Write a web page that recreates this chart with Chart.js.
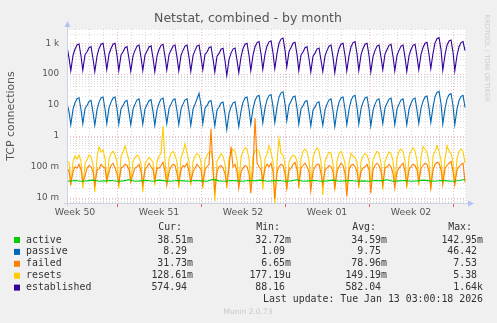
<!DOCTYPE html>
<html>
<head>
<meta charset="utf-8">
<script src="https://cdn.jsdelivr.net/npm/chart.js@4/dist/chart.umd.min.js"></script>
<style>
  html, body { margin: 0; padding: 0; background: #f0f0f0; }
  #netstat { display: block; }
</style>
</head>
<body>
<canvas id="netstat" width="497" height="323"></canvas>
<script>
// time axis: days counted from Thu Dec 11 2025 00:00, samples at these hours of each day
const startDay = -0.15;
const endDay = 33;
const hoursOfDay = [0, 3.5, 8, 12, 16, 20];

const weekLabels = ['Week 50', 'Week 51', 'Week 52', 'Week 01', 'Week 02'];
const weekCentres = [0.5, 7.5, 14.5, 21.5, 28.5];
const weekStarts = [4, 11, 18, 25, 32];

const yTicks = [0.01, 0.1, 1, 10, 100, 1000];
const yTickLabels = ['10 m', '100 m', '1', '10', '100', '1 k'];

// one row per day: 00h, 03:30, 08h, 12h, 16h, 20h
const established = [
  720,
  330, 128, 410, 650, 880, 950,
  380, 135, 430, 530, 720, 780,
  310, 122, 390, 680, 930, 1000,
  400, 140, 450, 680, 930, 1000,
  400, 130, 420, 530, 720, 780,
  310, 125, 400, 590, 810, 870,
  350, 132, 420, 560, 760, 820,
  330, 120, 390, 630, 860, 920,
  370, 136, 430, 590, 810, 870,
  350, 128, 410, 590, 810, 870,
  350, 124, 400, 590, 810, 870,
  350, 138, 440, 520, 720, 770,
  310, 118, 380, 470, 640, 690,
  270, 90, 300, 480, 650, 700,
  280, 112, 360, 680, 930, 1000,
  400, 130, 420, 770, 1050, 1130,
  450, 142, 450, 820, 1110, 1200,
  480, 150, 480, 1000, 1370, 1480,
  590, 170, 540, 730, 1000, 1080,
  430, 130, 420, 520, 720, 770,
  310, 118, 380, 480, 650, 700,
  280, 122, 390, 590, 810, 870,
  350, 112, 360, 680, 930, 1000,
  400, 126, 400, 770, 1050, 1130,
  450, 130, 420, 680, 930, 1000,
  400, 116, 370, 590, 810, 870,
  350, 140, 450, 630, 860, 920,
  370, 128, 410, 590, 810, 870,
  350, 124, 400, 630, 860, 920,
  370, 138, 440, 730, 1000, 1080,
  430, 150, 480, 1030, 1410, 1520,
  610, 134, 430, 870, 1190, 1280,
  510, 128, 410, 770, 1050, 1130,
  574.94
];

const passive = [
  10.7,
  6, 2.3, 7.4, 11.8, 16, 17.2,
  6.9, 2.5, 7.8, 9.6, 13, 14.2,
  5.7, 2.2, 7.1, 12.4, 16.9, 18.2,
  7.3, 2.5, 8.2, 12.4, 16.9, 18.2,
  7.3, 2.4, 7.6, 9.6, 13.1, 14.2,
  5.6, 2.3, 7.3, 10.7, 14.7, 15.8,
  6.3, 2.4, 7.6, 10.2, 13.8, 14.9,
  6, 2.2, 7.1, 11.5, 15.6, 16.7,
  6.7, 2.5, 7.8, 10.7, 14.7, 15.8,
  6.3, 2.3, 7.5, 10.7, 14.7, 15.8,
  6.3, 2.2, 7.3, 10.7, 16, 24,
  9.6, 2.5, 8, 9.5, 13.1, 14,
  5.6, 2.1, 6.9, 8.5, 11.6, 12.5,
  5, 1.6, 5.5, 8.7, 11.8, 12.7,
  5.1, 2, 6.5, 12.4, 16.9, 18.2,
  7.3, 2.4, 7.6, 14, 19.1, 20.5,
  8.2, 2.6, 8.2, 14.9, 20.2, 21.8,
  8.7, 2.7, 8.7, 18.2, 24.9, 26.9,
  10.7, 3.1, 9.8, 13.3, 18.2, 19.6,
  7.8, 2.4, 7.6, 9.5, 13.1, 14,
  5.6, 2.1, 6.9, 8.7, 11.8, 12.7,
  5.1, 2.2, 7.1, 10.7, 14.7, 15.8,
  6.3, 2, 6.5, 12.4, 16.9, 18.2,
  7.3, 2.3, 7.3, 14, 19.1, 20.5,
  8.2, 2.4, 7.6, 12.4, 16.9, 18.2,
  7.3, 2.1, 6.7, 10.7, 14.7, 15.8,
  6.3, 2.5, 8.2, 11.5, 15.6, 16.7,
  6.7, 2.3, 7.5, 10.7, 14.7, 15.8,
  6.3, 2.3, 7.3, 11.5, 15.6, 16.7,
  6.7, 2.5, 8, 13.3, 18.2, 19.6,
  7.8, 2.7, 8.7, 18.7, 25.6, 27.6,
  11, 2.4, 7.8, 15.8, 21.6, 23.3,
  9.3, 2.3, 7.5, 14, 19.1, 20.5,
  8.29
];

const failed = [
  0.09,
  0.07, 0.028, 0.07, 0.1, 0.09, 0.12,
  0.08, 0.032, 0.05, 0.09, 0.11, 0.1,
  0.07, 0.025, 0.08, 0.085, 0.12, 0.1,
  0.09, 0.035, 0.07, 0.11, 0.13, 0.09,
  0.06, 0.028, 0.09, 0.1, 0.12, 0.11,
  0.08, 0.032, 0.06, 0.09, 0.1, 0.12,
  0.07, 0.026, 0.08, 0.1, 0.13, 0.1,
  0.08, 0.035, 0.09, 0.09, 0.11, 0.14,
  0.07, 0.025, 0.07, 0.1, 0.12, 0.11,
  0.06, 0.028, 0.08, 0.11, 0.1, 0.13,
  0.07, 0.032, 0.07, 0.09, 0.12, 0.1,
  0.08, 0.026, 0.08, 0.1, 0.12, 1.7,
  0.07, 0.016, 0.07, 0.1, 0.11, 0.09,
  0.06, 0.026, 0.09, 0.45, 0.1, 0.12,
  0.07, 0.02, 0.07, 0.09, 0.11, 0.1,
  0.06, 0.014, 0.08, 3.8, 0.13, 0.1,
  0.08, 0.035, 0.09, 0.12, 0.1, 0.13,
  0.07, 0.009, 0.07, 0.1, 0.12, 0.11,
  0.06, 0.02, 0.08, 0.09, 0.12, 0.14,
  0.08, 0.026, 0.09, 0.11, 0.13, 0.1,
  0.07, 0.016, 0.07, 0.1, 0.12, 0.12,
  0.06, 0.026, 0.08, 0.09, 0.11, 0.1,
  0.07, 0.02, 0.07, 0.1, 0.13, 0.11,
  0.06, 0.011, 0.08, 0.11, 0.12, 0.1,
  0.07, 0.026, 0.07, 0.09, 0.1, 0.12,
  0.08, 0.014, 0.08, 0.11, 0.13, 0.11,
  0.07, 0.026, 0.09, 0.1, 0.12, 0.1,
  0.06, 0.02, 0.07, 0.09, 0.11, 0.13,
  0.07, 0.026, 0.08, 0.1, 0.12, 0.11,
  0.08, 0.032, 0.09, 0.11, 0.13, 0.12,
  0.07, 0.02, 0.08, 0.12, 0.14, 0.13,
  0.08, 0.026, 0.09, 0.11, 0.13, 0.15,
  0.07, 0.026, 0.08, 0.1, 0.12, 0.13,
  0.03173
];

const resets = [
  0.15,
  0.14, 0.025, 0.15, 0.22, 0.18, 0.24,
  0.15, 0.02, 0.13, 0.17, 0.24, 0.21,
  0.12, 0.015, 0.2, 0.44, 0.3, 0.35,
  0.18, 0.03, 0.18, 0.27, 0.32, 0.24,
  0.14, 0.02, 0.22, 0.3, 0.48, 0.27,
  0.16, 0.03, 0.15, 0.2, 0.24, 0.21,
  0.12, 0.015, 0.13, 0.16, 0.2, 0.17,
  0.14, 0.025, 0.15, 0.22, 0.27, 2.1,
  0.16, 0.03, 0.18, 0.27, 0.32, 0.24,
  0.14, 0.02, 0.2, 0.3, 0.55, 0.27,
  0.15, 0.025, 0.15, 0.22, 0.27, 0.24,
  0.14, 0.02, 0.17, 0.24, 0.3, 0.32,
  0.15, 0.008, 0.15, 0.2, 0.27, 0.22,
  0.12, 0.02, 0.18, 0.27, 0.37, 0.32,
  0.16, 0.03, 0.2, 0.32, 0.42, 0.37,
  0.18, 0.025, 0.22, 0.32, 0.37, 0.32,
  0.16, 0.018, 0.18, 0.27, 0.48, 0.3,
  0.14, 0.006, 0.15, 0.8, 0.27, 0.24,
  0.12, 0.018, 0.14, 0.2, 0.24, 0.22,
  0.15, 0.02, 0.18, 0.32, 0.37, 0.32,
  0.16, 0.025, 0.2, 0.32, 0.42, 0.32,
  0.14, 0.012, 0.15, 0.22, 0.3, 0.27,
  0.12, 0.018, 0.15, 0.27, 0.32, 0.22,
  0.13, 0.015, 0.13, 0.27, 0.22, 0.2,
  0.14, 0.02, 0.15, 0.22, 0.27, 0.24,
  0.15, 0.025, 0.17, 0.24, 0.32, 0.27,
  0.13, 0.018, 0.15, 0.22, 0.3, 0.26,
  0.16, 0.03, 0.2, 0.32, 0.37, 0.32,
  0.15, 0.02, 0.22, 0.32, 0.42, 0.32,
  0.16, 0.025, 0.2, 0.45, 0.37, 0.3,
  0.14, 0.018, 0.22, 0.32, 0.48, 0.32,
  0.16, 0.03, 0.18, 0.48, 0.32, 0.27,
  0.14, 0.025, 0.18, 0.32, 0.37, 0.32,
  0.12861
];

// active is sampled twice a day
const active = [
  0.035, 0.034, 0.036, 0.034, 0.035, 0.037, 0.034, 0.035, 0.036, 0.034,
  0.035, 0.038, 0.034, 0.035, 0.036, 0.034, 0.037, 0.035, 0.034, 0.036,
  0.035, 0.034, 0.036, 0.035, 0.034, 0.039, 0.035, 0.034, 0.036, 0.035,
  0.034, 0.036, 0.035, 0.037, 0.034, 0.035, 0.036, 0.034, 0.035, 0.038,
  0.034, 0.035, 0.036, 0.034, 0.035, 0.037, 0.034, 0.035, 0.036, 0.034,
  0.035, 0.034, 0.036, 0.035, 0.038, 0.034, 0.035, 0.036, 0.034, 0.035,
  0.037, 0.035, 0.034, 0.036, 0.035, 0.034, 0.036, 0.03851
];

const seriesNames = ['active', 'passive', 'failed', 'resets', 'established'];
const seriesColors = ['#00cc00', '#0066b3', '#ff8000', '#ffcc00', '#330099'];
const curText = ['38.51m', '8.29', '31.73m', '128.61m', '574.94'];
const minText = ['32.72m', '1.09', '6.65m', '177.19u', '88.16'];
const avgText = ['34.59m', '9.75', '78.96m', '149.19m', '582.04'];
const maxText = ['142.95m', '46.42', '7.53', '5.38', '1.64k'];

const times = [startDay];
for (let d = 0; d < endDay; d++) {
  hoursOfDay.forEach(h => times.push(d + h / 24));
}
times.push(endDay);

const activeTimes = [startDay];
for (let d = 0; d <= endDay * 2; d++) activeTimes.push(d / 2);

const pts = (xs, ys) => ys.map((v, i) => ({ x: xs[i], y: v }));

const MONO = '"DejaVu Sans Mono", monospace';
const SANS = '"DejaVu Sans", sans-serif';
const MINOR_GRID = 'rgba(160,160,160,0.38)';
const MAJOR_GRID = 'rgba(230,110,110,0.5)';

const muninFrame = {
  id: 'muninFrame',
  beforeDatasetsDraw(chart) {
    const { ctx, chartArea: a, scales: { x, y } } = chart;
    ctx.save();
    ctx.fillStyle = '#ffffff';
    ctx.fillRect(a.left, a.top, a.right - a.left, a.bottom - a.top);
    ctx.lineWidth = 1;
    ctx.setLineDash([1, 2]);

    // horizontal grid, decades in red
    for (let e = -3; e <= 3; e++) {
      for (let k = 1; k <= 9; k++) {
        const v = k * Math.pow(10, e);
        if (v < y.min || v > y.max) continue;
        const py = Math.round(y.getPixelForValue(v)) + 0.5;
        ctx.strokeStyle = k === 1 ? MAJOR_GRID : MINOR_GRID;
        ctx.beginPath();
        ctx.moveTo(a.left, py);
        ctx.lineTo(a.right, py);
        ctx.stroke();
      }
    }

    // vertical grid, week boundaries in red
    for (let k = 0; k < 40; k++) {
      const d = -3 + k * 7 / 6;
      if (d < x.min || d > x.max) continue;
      const major = k % 6 === 0;
      const px = Math.round(x.getPixelForValue(d)) + 0.5;
      ctx.strokeStyle = major ? MAJOR_GRID : MINOR_GRID;
      ctx.beginPath();
      ctx.moveTo(px, a.top);
      ctx.lineTo(px, a.bottom + 3);
      ctx.stroke();
    }

    // dotted top and right edges
    ctx.strokeStyle = MINOR_GRID;
    ctx.beginPath();
    ctx.moveTo(a.left, a.top + 0.5);
    ctx.lineTo(a.right, a.top + 0.5);
    ctx.moveTo(a.right - 0.5, a.top);
    ctx.lineTo(a.right - 0.5, a.bottom);
    ctx.stroke();
    ctx.restore();
  },
  afterDatasetsDraw(chart) {
    const { ctx, chartArea: a, scales: { x } } = chart;
    ctx.save();
    ctx.lineWidth = 1;
    ctx.strokeStyle = '#cdd2e4';
    ctx.beginPath();
    ctx.moveTo(a.left + 0.5, a.bottom + 3);
    ctx.lineTo(a.left + 0.5, a.top - 3);
    ctx.moveTo(a.left - 3, a.bottom + 0.5);
    ctx.lineTo(a.right + 3, a.bottom + 0.5);
    ctx.stroke();

    // red ticks under week boundaries
    ctx.strokeStyle = '#e06060';
    weekStarts.forEach(d => {
      const px = Math.round(x.getPixelForValue(d)) + 0.5;
      ctx.beginPath();
      ctx.moveTo(px, a.bottom + 1);
      ctx.lineTo(px, a.bottom + 4);
      ctx.stroke();
    });

    // arrow heads
    ctx.fillStyle = '#b4c2f2';
    ctx.beginPath();
    ctx.moveTo(a.left + 0.5, a.top - 8);
    ctx.lineTo(a.left - 2.5, a.top - 2);
    ctx.lineTo(a.left + 3.5, a.top - 2);
    ctx.closePath();
    ctx.fill();
    ctx.beginPath();
    ctx.moveTo(a.right + 8, a.bottom + 0.5);
    ctx.lineTo(a.right + 2, a.bottom - 2.5);
    ctx.lineTo(a.right + 2, a.bottom + 3.5);
    ctx.closePath();
    ctx.fill();
    ctx.restore();
  },
  afterDraw(chart) {
    const { ctx, chartArea: a } = chart;
    ctx.save();

    ctx.fillStyle = '#555555';
    ctx.font = '12.5px ' + SANS;
    ctx.textAlign = 'center';
    ctx.textBaseline = 'middle';
    ctx.fillText('Netstat, combined - by month', 248, 19);

    ctx.save();
    ctx.translate(11, (a.top + a.bottom) / 2);
    ctx.rotate(-Math.PI / 2);
    ctx.font = '10.9px ' + SANS;
    ctx.fillText('TCP connections', 0, 0);
    ctx.restore();

    ctx.save();
    ctx.translate(487, 58);
    ctx.rotate(Math.PI / 2);
    ctx.fillStyle = '#cccccc';
    ctx.font = '6.8px ' + SANS;
    ctx.fillText('RRDTOOL / TOBI OETIKER', 0, 0);
    ctx.restore();

    // legend table
    ctx.font = '9.9px ' + MONO;
    ctx.fillStyle = '#333333';
    ctx.textAlign = 'right';
    const cols = [193, 291, 387, 483];
    ['Cur:', 'Min:', 'Avg:', 'Max:'].forEach((h, i) => ctx.fillText(h, cols[i] - 11, 227));
    const stats = [curText, minText, avgText, maxText];
    seriesNames.forEach((name, r) => {
      const ry = 240 + r * 11.9;
      ctx.fillStyle = seriesColors[r];
      ctx.fillRect(14, ry - 3, 6, 6);
      ctx.fillStyle = '#333333';
      ctx.textAlign = 'left';
      ctx.fillText(name, 26, ry);
      ctx.textAlign = 'right';
      stats.forEach((col, c) => {
        const s = col[r];
        const txt = /[a-z]$/i.test(s) ? s : s + ' ';
        ctx.fillText(txt, cols[c], ry);
      });
    });
    ctx.fillText('Last update: Tue Jan 13 03:00:18 2026', 483, 299.5);

    ctx.textAlign = 'center';
    ctx.fillStyle = '#c8c8c8';
    ctx.font = '7.5px ' + SANS;
    ctx.fillText('Munin 2.0.73', 248, 312);
    ctx.restore();
  }
};

const line = (label, data, color, order) => ({
  label, data, order,
  borderColor: color,
  backgroundColor: color,
  borderWidth: 1.1,
  pointRadius: 0,
  tension: 0,
  fill: false
});

new Chart(document.getElementById('netstat'), {
  type: 'line',
  data: {
    datasets: [
      line('established', pts(times, established), '#330099', 0),
      line('passive', pts(times, passive), '#0066b3', 1),
      line('active', pts(activeTimes, active), '#00cc00', 2),
      line('failed', pts(times, failed), '#ff8000', 3),
      line('resets', pts(times, resets), '#ffcc00', 4)
    ]
  },
  options: {
    responsive: false,
    animation: false,
    devicePixelRatio: 1,
    layout: { padding: { left: 0, top: 29, right: 31, bottom: 100 } },
    plugins: {
      legend: { display: false },
      tooltip: { enabled: false },
      title: { display: false }
    },
    scales: {
      x: {
        type: 'linear',
        min: -0.17,
        max: 33.08,
        afterFit: s => { s.height = 20; },
        afterBuildTicks: s => { s.ticks = weekCentres.map(v => ({ value: v })); },
        grid: { display: false, drawTicks: false },
        border: { display: false },
        ticks: {
          autoSkip: false,
          maxRotation: 0,
          padding: 4,
          color: '#555555',
          font: { family: 'DejaVu Sans', size: 9.4 },
          callback: v => weekLabels[weekCentres.indexOf(v)]
        }
      },
      y: {
        type: 'logarithmic',
        min: 0.0067,
        max: 2900,
        afterFit: s => { s.width = 67; },
        afterBuildTicks: s => { s.ticks = yTicks.map(v => ({ value: v })); },
        grid: { display: false, drawTicks: false },
        border: { display: false },
        ticks: {
          padding: 8,
          color: '#555555',
          font: { family: 'DejaVu Sans', size: 8.8 },
          callback: v => yTickLabels[yTicks.indexOf(v)]
        }
      }
    }
  },
  plugins: [muninFrame]
});
</script>
</body>
</html>
